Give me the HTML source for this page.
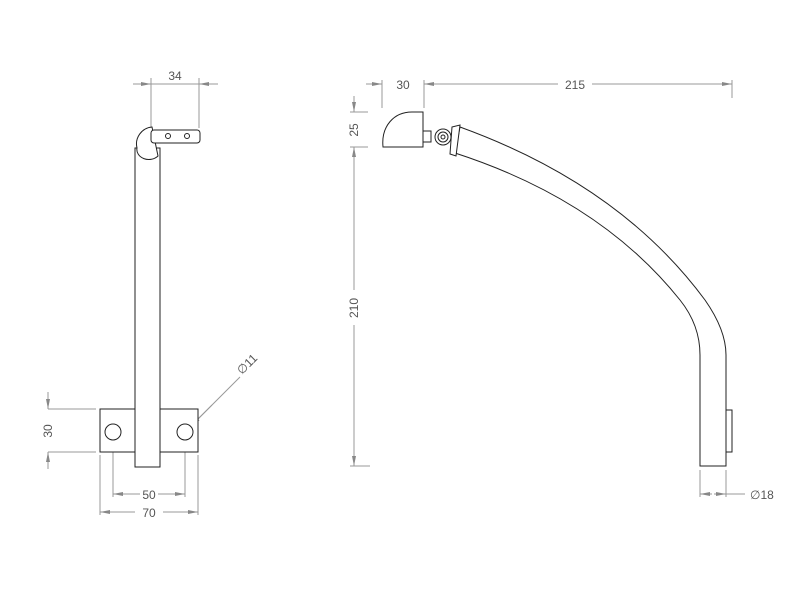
<!DOCTYPE html>
<html><head><style>html,body{margin:0;padding:0;background:#fff}</style></head><body>
<svg width="800" height="600" xmlns="http://www.w3.org/2000/svg" font-family="Liberation Sans, sans-serif">
<defs>
<marker id="a" markerWidth="10" markerHeight="6" refX="10" refY="3" orient="auto-start-reverse" markerUnits="userSpaceOnUse"><path d="M0,1 L10,3 L0,5 z" fill="#888"/></marker>
</defs>
<g stroke="#999" stroke-width="1" fill="none">
<line x1="151" y1="78" x2="151" y2="128"/><line x1="199" y1="78" x2="199" y2="128"/>
<line x1="133" y1="84" x2="151" y2="84" marker-end="url(#a)"/><line x1="218" y1="84" x2="199" y2="84" marker-end="url(#a)"/>
<line x1="151" y1="84" x2="199" y2="84"/>
<line x1="48" y1="409" x2="96" y2="409"/><line x1="48" y1="452" x2="96" y2="452"/>
<line x1="48" y1="392" x2="48" y2="409" marker-end="url(#a)"/><line x1="48" y1="469" x2="48" y2="452" marker-end="url(#a)"/>
<line x1="113" y1="440" x2="113" y2="497"/><line x1="185" y1="440" x2="185" y2="497"/>
<line x1="100" y1="455" x2="100" y2="515"/><line x1="198" y1="455" x2="198" y2="515"/>
<line x1="113" y1="494" x2="140" y2="494" marker-start="url(#a)"/><line x1="158" y1="494" x2="185" y2="494" marker-end="url(#a)"/>
<line x1="100" y1="512" x2="135" y2="512" marker-start="url(#a)"/><line x1="163" y1="512" x2="198" y2="512" marker-end="url(#a)"/>
<line x1="240" y1="377" x2="180" y2="437"/>
<line x1="212" y1="405" x2="191" y2="426" marker-end="url(#a)"/>
<line x1="382" y1="80" x2="382" y2="108"/><line x1="424" y1="80" x2="424" y2="108"/><line x1="732" y1="80" x2="732" y2="98"/>
<line x1="366" y1="84" x2="382" y2="84" marker-end="url(#a)"/>
<line x1="424" y1="84" x2="558" y2="84" marker-start="url(#a)"/>
<line x1="592" y1="84" x2="732" y2="84" marker-end="url(#a)"/>
<line x1="350" y1="112" x2="368" y2="112"/><line x1="350" y1="147" x2="368" y2="147"/><line x1="350" y1="466" x2="370" y2="466"/>
<line x1="354" y1="96" x2="354" y2="112" marker-end="url(#a)"/>
<line x1="354" y1="147" x2="354" y2="290" marker-start="url(#a)"/>
<line x1="354" y1="325" x2="354" y2="466" marker-end="url(#a)"/>
<line x1="700" y1="470" x2="700" y2="497"/><line x1="726" y1="470" x2="726" y2="497"/>
<line x1="700" y1="494" x2="712" y2="494" marker-start="url(#a)"/><line x1="714" y1="494" x2="726" y2="494" marker-end="url(#a)"/>
<line x1="726" y1="494" x2="745" y2="494"/>
</g>
<g fill="#555" font-size="12">
<text x="175" y="80" text-anchor="middle">34</text>
<text x="149" y="499" text-anchor="middle">50</text>
<text x="149" y="517" text-anchor="middle">70</text>
<text transform="translate(52,431) rotate(-90)" text-anchor="middle">30</text>
<text transform="translate(250,367) rotate(-45)" text-anchor="middle">∅11</text>
<text x="403" y="89" text-anchor="middle">30</text>
<text x="575" y="89" text-anchor="middle">215</text>
<text transform="translate(358,130) rotate(-90)" text-anchor="middle">25</text>
<text transform="translate(358,308) rotate(-90)" text-anchor="middle">210</text>
<text x="750" y="499">∅18</text>
</g>
<g stroke="#222" stroke-width="1" fill="#fff">
<rect x="100" y="409" width="98" height="43"/>
<circle cx="113" cy="432" r="8"/><circle cx="185" cy="432" r="8"/>
<rect x="135" y="148" width="25" height="319"/>
<path d="M152,127 A17,17 0 0 0 137,148 A12,10 0 0 0 158,156 Z"/>
<rect x="151" y="130" width="49" height="13" rx="3"/>
<circle cx="168" cy="136" r="2.5"/><circle cx="187" cy="136" r="2.5"/>
<path d="M460,127 Q620,185 705,300 Q726,330 726,355 L726,466 L700,466 L700,355 Q700,325 680,300 Q600,200 455,153 Z"/>
<rect x="726" y="410" width="6" height="42"/>
<path d="M423,112 L423,147 L383,147 C381,126 394,112 412,112 Z"/>
<rect x="423" y="131" width="8" height="11"/>
<circle cx="443" cy="137" r="8"/><circle cx="443" cy="137" r="5"/><circle cx="443" cy="137" r="2"/>
<path d="M452,127 L460,125 L456,156 L450,154 Z"/>
</g>
</svg>
</body></html>
